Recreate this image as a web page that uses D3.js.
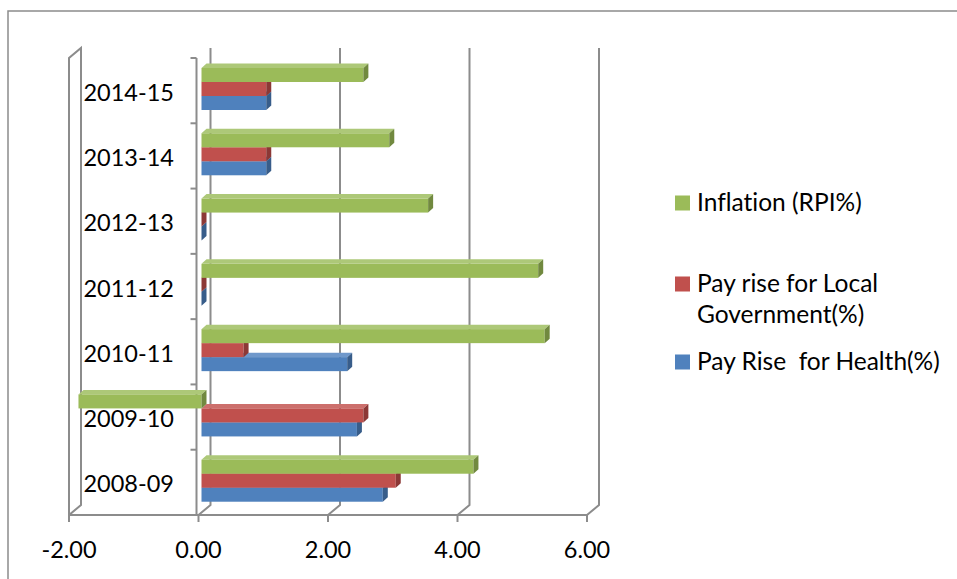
<!DOCTYPE html>
<html>
<head>
<meta charset="utf-8">
<script src="https://cdn.jsdelivr.net/npm/d3@7"></script>
<style>
    body { margin: 0; background: #fff; }
    text { font-family: Lato, "Liberation Sans", Arial, sans-serif; fill: #000; font-variant-ligatures: none; }
    .axis-line { stroke: #8c8c8c; stroke-width: 2; fill: none; }
</style>
</head>
<body>
<div id="chart"></div>
<script>
var categories = ["2008-09", "2009-10", "2010-11", "2011-12", "2012-13", "2013-14", "2014-15"];
var healthPay = [2.8, 2.4, 2.25, 0, 0, 1.0, 1.0];
var localGovPay = [3.0, 2.5, 0.65, 0, 0, 1.0, 1.0];
var inflation = [4.2, -1.9, 5.3, 5.2, 3.5, 2.9, 2.5];
var xTicks = [-2, 0, 2, 4, 6];
var seriesNames = ["Inflation (RPI%)", "Pay rise for Local Government(%)", "Pay Rise  for Health(%)"];

function init() {
    var w = 957;
    var h = 579;
    var depthX = 12, depthY = -10;   // wall depth
    var barDX = 5, barDY = -4.5;     // bar box depth
    var barShift = 3;                // bars sit a little behind the front plane
    var axisFont = "23.5px";
    var legendFont = "24.5px";

    var series = [
        { name: seriesNames[2], values: healthPay, front: "#4f81bd", top: "#6f98cb", side: "#385d8a" },
        { name: seriesNames[1], values: localGovPay, front: "#c0504d", top: "#cc6f6c", side: "#8c3836" },
        { name: seriesNames[0], values: inflation, front: "#9bbb59", top: "#adc878", side: "#71893f" }
    ];

    var svg = d3.select("#chart")
        .append("svg")
        .attr("width", w)
        .attr("height", h);

    // outer frame
    svg.append("rect")
        .attr("x", 8).attr("y", 11)
        .attr("width", w + 10).attr("height", h + 10)
        .attr("fill", "none")
        .attr("stroke", "#8c8c8c")
        .attr("stroke-width", 1.5);

    var xScale = d3.scaleLinear()
        .domain([-2, 6])
        .range([69, 587]);

    var yScale = d3.scaleBand()
        .domain(categories.slice().reverse())
        .range([58, 515]);

    var inner = d3.scaleBand()
        .domain(["inflation", "local", "health"])
        .range([10, 52]);

    var floorY = yScale.range()[1];
    var topY = yScale.range()[0];

    // left wall
    svg.append("path")
        .attr("class", "axis-line")
        .attr("d", `M${xScale(-2)},${floorY} V${topY} L${xScale(-2) + depthX},${topY + depthY} V${floorY + depthY} Z`);

    // back wall gridlines with floor diagonals
    svg.selectAll(".grid")
        .data(xTicks.slice(1))
        .enter()
        .append("path")
        .attr("class", "axis-line grid")
        .attr("d", function (d) {
            var x = xScale(d);
            return `M${x + depthX},${topY + depthY} V${floorY + depthY} L${x},${floorY}`;
        });

    // category axis
    svg.append("line")
        .attr("class", "axis-line")
        .attr("x1", xScale(0) - 2).attr("x2", xScale(0) - 2)
        .attr("y1", topY).attr("y2", floorY);

    svg.selectAll(".cat-tick")
        .data(categories)
        .enter()
        .append("line")
        .attr("class", "axis-line cat-tick")
        .attr("x1", xScale(0) - 8).attr("x2", xScale(0) - 2)
        .attr("y1", function (d) { return yScale(d); })
        .attr("y2", function (d) { return yScale(d); });

    svg.selectAll(".cat-label")
        .data(categories)
        .enter()
        .append("text")
        .attr("class", "cat-label")
        .attr("x", 174)
        .attr("y", function (d) { return yScale(d) + yScale.bandwidth() / 2 + 10; })
        .attr("text-anchor", "end")
        .style("font-size", axisFont)
        .text(function (d) { return d; });

    // value axis along the front of the floor
    svg.append("line")
        .attr("class", "axis-line")
        .attr("x1", xScale(-2)).attr("x2", xScale(6))
        .attr("y1", floorY).attr("y2", floorY);

    svg.selectAll(".x-tick")
        .data(xTicks)
        .enter()
        .append("line")
        .attr("class", "axis-line x-tick")
        .attr("x1", function (d) { return xScale(d); })
        .attr("x2", function (d) { return xScale(d); })
        .attr("y1", floorY).attr("y2", floorY + 7);

    svg.selectAll(".x-label")
        .data(xTicks)
        .enter()
        .append("text")
        .attr("class", "x-label")
        .attr("x", function (d) { return xScale(d); })
        .attr("y", 558)
        .attr("text-anchor", "middle")
        .style("font-size", axisFont)
        .text(function (d) { return d3.format(".2f")(d).replace("\u2212", "-"); });

    // 3d bars: drawn bottom series first so upper bars cover their top faces
    var keys = { "#4f81bd": "health", "#c0504d": "local", "#9bbb59": "inflation" };
    var bars = [];
    categories.forEach(function (cat, i) {
        series.forEach(function (s) {
            bars.push({ cat: cat, value: s.values[i], s: s, key: keys[s.front] });
        });
    });
    // paint from the bottom of the chart upwards
    bars.sort(function (a, b) {
        return (yScale(b.cat) + inner(b.key)) - (yScale(a.cat) + inner(a.key));
    });

    var x0 = xScale(0) + barShift;
    var bh = inner.bandwidth();

    bars.forEach(function (b) {
        var xa = Math.min(x0, xScale(b.value) + barShift);
        var xb = Math.max(x0, xScale(b.value) + barShift);
        var y = yScale(b.cat) + inner(b.key);
        var g = svg.append("g");

        // top face
        g.append("path")
            .attr("d", `M${xa},${y} L${xa + barDX},${y + barDY} L${xb + barDX},${y + barDY} L${xb},${y} Z`)
            .attr("fill", b.s.top);
        // front face
        g.append("rect")
            .attr("x", xa).attr("y", y)
            .attr("width", xb - xa).attr("height", bh)
            .attr("fill", b.s.front);
        // right face
        g.append("path")
            .attr("d", `M${xb},${y} L${xb + barDX},${y + barDY} L${xb + barDX},${y + bh + barDY} L${xb},${y + bh} Z`)
            .attr("fill", b.s.side);
    });

    // legend
    var legend = [
        { label: [seriesNames[0]], color: "#9bbb59", y: 203 },
        { label: ["Pay rise for Local", "Government(%)"], color: "#c0504d", y: 284 },
        { label: [seriesNames[2]], color: "#4f81bd", y: 362 }
    ];

    var lg = svg.selectAll(".legend")
        .data(legend)
        .enter()
        .append("g")
        .attr("class", "legend");

    lg.append("rect")
        .attr("x", 675)
        .attr("y", function (d) { return d.y - 7.5; })
        .attr("width", 15).attr("height", 15)
        .attr("fill", function (d) { return d.color; });

    lg.append("text")
        .attr("x", 697)
        .attr("y", function (d) { return d.y + 8; })
        .style("font-size", legendFont)
        .style("white-space", "pre")
        .selectAll("tspan")
        .data(function (d) { return d.label; })
        .enter()
        .append("tspan")
        .attr("x", 697)
        .attr("dy", function (d, i) { return i ? 31 : 0; })
        .text(function (d) { return d; });
}

window.onload = init;
</script>
</body>
</html>
